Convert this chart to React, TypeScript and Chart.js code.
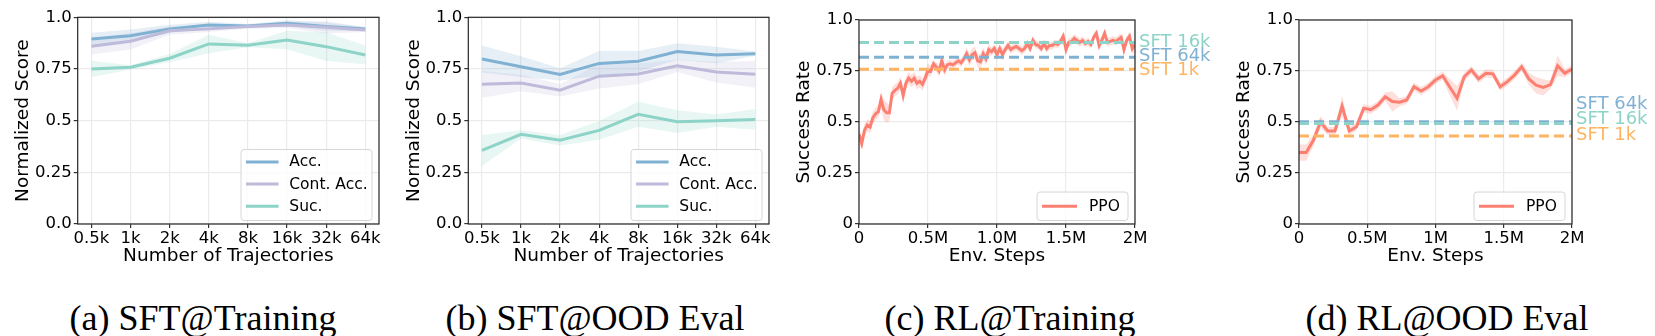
import React, { useEffect, useRef } from 'react';
import { Chart, registerables } from 'chart.js';

Chart.register(...registerables);
Chart.defaults.font.family = '"DejaVu Sans", sans-serif';
Chart.defaults.color = '#000';

// ---------------- data ----------------
const trajTicks = ['0.5k', '1k', '2k', '4k', '8k', '16k', '32k', '64k'];
const trajIndex = [0, 1, 2, 3, 4, 5, 6, 7];
const scoreTickValues = [0, 0.25, 0.5, 0.75, 1.0];
const scoreTickLabels = ['0.0', '0.25', '0.5', '0.75', '1.0'];
const rateTickLabels = ['0', '0.25', '0.5', '0.75', '1.0'];
const stepTickValues = [0, 500000, 1000000, 1500000, 2000000];
const stepTickLabelsTrain = ['0', '0.5M', '1.0M', '1.5M', '2M'];
const stepTickLabelsOod = ['0', '0.5M', '1M', '1.5M', '2M'];

// (a) SFT@Training
const sftTrainAcc = [0.895, 0.911, 0.944, 0.963, 0.958, 0.971, 0.955, 0.944];
const sftTrainAccStd = [0.03, 0.03, 0.02, 0.015, 0.01, 0.015, 0.02, 0.01];
const sftTrainCont = [0.86, 0.884, 0.935, 0.944, 0.955, 0.963, 0.952, 0.939];
const sftTrainContStd = [0.04, 0.04, 0.02, 0.015, 0.01, 0.015, 0.03, 0.01];
const sftTrainSuc = [0.75, 0.758, 0.802, 0.871, 0.865, 0.89, 0.858, 0.818];
const sftTrainSucStd = [0.04, 0.01, 0.02, 0.045, 0.01, 0.045, 0.07, 0.045];

// (b) SFT@OOD Eval
const sftOodAcc = [0.798, 0.761, 0.724, 0.777, 0.787, 0.834, 0.818, 0.824];
const sftOodAccStd = [0.065, 0.05, 0.03, 0.06, 0.05, 0.04, 0.04, 0.01];
const sftOodCont = [0.676, 0.682, 0.647, 0.715, 0.726, 0.765, 0.735, 0.724];
const sftOodContStd = [0.065, 0.04, 0.03, 0.06, 0.05, 0.03, 0.05, 0.065];
const sftOodSuc = [0.356, 0.434, 0.405, 0.453, 0.531, 0.495, 0.5, 0.506];
const sftOodSucStd = [0.075, 0.02, 0.025, 0.045, 0.06, 0.055, 0.03, 0.05];

// (c) RL@Training  (PPO, 101 evaluations over 2M steps)
const ppoTrain = [
  0.44, 0.395, 0.46, 0.485, 0.475, 0.52, 0.54, 0.55, 0.61, 0.56,
  0.545, 0.545, 0.64, 0.655, 0.665, 0.69, 0.63, 0.69, 0.715, 0.7,
  0.715, 0.69, 0.7, 0.685, 0.715, 0.755, 0.75, 0.785, 0.77, 0.75,
  0.8, 0.755, 0.78, 0.785, 0.78, 0.79, 0.8, 0.79, 0.81, 0.835,
  0.805, 0.83, 0.84, 0.8, 0.795, 0.835, 0.81, 0.855, 0.845, 0.86,
  0.83, 0.86, 0.83, 0.855, 0.875, 0.855, 0.865, 0.87, 0.86, 0.85,
  0.86, 0.885, 0.86, 0.9, 0.88, 0.875, 0.86, 0.885, 0.86, 0.875,
  0.875, 0.885, 0.88, 0.895, 0.92, 0.855, 0.89, 0.895, 0.91, 0.9,
  0.89, 0.9, 0.885, 0.895, 0.88, 0.915, 0.935, 0.875, 0.9, 0.935,
  0.89, 0.895, 0.9, 0.895, 0.905, 0.915, 0.855, 0.9, 0.92, 0.86,
  0.88,
];
const ppoTrainStd = [
  0.04, 0.03, 0.03, 0.03, 0.03, 0.03, 0.03, 0.03, 0.04, 0.05,
  0.05, 0.04, 0.03, 0.03, 0.03, 0.03, 0.04, 0.03, 0.03, 0.03,
  0.03, 0.03, 0.03, 0.03, 0.03, 0.03, 0.03, 0.02, 0.02, 0.03,
  0.02, 0.03, 0.02, 0.02, 0.02, 0.02, 0.02, 0.02, 0.02, 0.03,
  0.03, 0.03, 0.03, 0.03, 0.04, 0.03, 0.03, 0.03, 0.02, 0.02,
  0.03, 0.02, 0.03, 0.02, 0.02, 0.02, 0.02, 0.02, 0.02, 0.02,
  0.02, 0.02, 0.02, 0.02, 0.02, 0.02, 0.02, 0.02, 0.02, 0.02,
  0.02, 0.02, 0.02, 0.02, 0.02, 0.03, 0.02, 0.02, 0.02, 0.02,
  0.02, 0.02, 0.02, 0.02, 0.02, 0.02, 0.02, 0.03, 0.02, 0.02,
  0.02, 0.02, 0.02, 0.02, 0.02, 0.02, 0.03, 0.02, 0.02, 0.03,
  0.03,
];
const ppoTrainSteps = ppoTrain.map((_, i) => i * 20000);
const sftTrainRefs = [
  { label: 'SFT 16k', value: 0.89, labelAt: 0.89 },
  { label: 'SFT 64k', value: 0.817, labelAt: 0.82 },
  { label: 'SFT 1k', value: 0.758, labelAt: 0.753 },
];

// (d) RL@OOD Eval (PPO, 39 evaluations over 2M steps)
const ppoOod = [
  0.35, 0.35, 0.41, 0.5, 0.456, 0.456, 0.578, 0.456, 0.477, 0.567,
  0.56, 0.583, 0.624, 0.6, 0.597, 0.608, 0.673, 0.652, 0.673, 0.706,
  0.727, 0.67, 0.616, 0.722, 0.755, 0.711, 0.739, 0.736, 0.673, 0.698,
  0.73, 0.771, 0.711, 0.681, 0.67, 0.683, 0.776, 0.739, 0.76,
];
const ppoOodStd = [
  0.04, 0.04, 0.03, 0.03, 0.02, 0.02, 0.05, 0.02, 0.02, 0.02,
  0.02, 0.02, 0.02, 0.05, 0.02, 0.02, 0.02, 0.02, 0.02, 0.02,
  0.02, 0.04, 0.06, 0.02, 0.02, 0.02, 0.02, 0.02, 0.02, 0.02,
  0.02, 0.02, 0.03, 0.04, 0.04, 0.02, 0.05, 0.02, 0.02,
];
const ppoOodSteps = ppoOod.map((_, i) => (i * 2000000) / (ppoOod.length - 1));
const sftOodRefs = [
  { label: 'SFT 64k', value: 0.501, labelAt: 0.588 },
  { label: 'SFT 16k', value: 0.493, labelAt: 0.515 },
  { label: 'SFT 1k', value: 0.431, labelAt: 0.436 },
];

const captions = ['(a) SFT@Training', '(b) SFT@OOD Eval', '(c) RL@Training', '(d) RL@OOD Eval'];

// ---------------- styling ----------------
const BLUE = '#80b1d3';
const PURPLE = '#bebada';
const TEAL = '#8dd3c7';
const RED = '#fb8072';
const ORANGE = '#fdb462';
const refColors: Record<string, string> = { 'SFT 16k': TEAL, 'SFT 64k': BLUE, 'SFT 1k': ORANGE };

const H = 290;
const TITLE_SIZE = 18.5;
const TICK_SIZE = 16.5;
const TITLE_HALF = TITLE_SIZE * 1.2 / 2;

function rgba(hex: string, a: number) {
  const n = parseInt(hex.slice(1), 16);
  return `rgba(${(n >> 16) & 255},${(n >> 8) & 255},${n & 255},${a})`;
}

function lineDs(xs: number[], ys: number[], color: string, order: number, extra: any = {}) {
  return {
    data: xs.map((x, i) => ({ x, y: ys[i] })),
    borderColor: color,
    borderWidth: 3,
    pointRadius: 0,
    fill: false,
    order,
    ...extra,
  };
}

function bandDs(xs: number[], ys: number[], sd: number[], color: string, order: number, alpha = 0.2) {
  return [
    {
      data: xs.map((x, i) => ({ x, y: ys[i] - sd[i] })),
      borderColor: 'transparent',
      borderWidth: 0,
      pointRadius: 0,
      fill: false,
      order,
    },
    {
      data: xs.map((x, i) => ({ x, y: ys[i] + sd[i] })),
      borderColor: 'transparent',
      borderWidth: 0,
      pointRadius: 0,
      fill: '-1',
      backgroundColor: rgba(color, alpha),
      order,
    },
  ];
}

type Spec = {
  x: number; w: number;
  axisL: number; axisR: number; axisT: number; axisB: number;
  yTitleX: number; xTitleY: number;
  yTitle: string; xTitle: string;
  xMin: number; xMax: number; xTicks: number[]; xLabels: string[];
  yLabels: string[];
  datasets: any[];
  legend: { label: string; color: string }[];
  legendBox: { w: number; h: number; first: number; row: number; l0: number; l1: number; tx: number };
  refs?: { label: string; value: number; labelAt: number }[];
};

function extrasPlugin(spec: Spec) {
  return {
    id: 'extras',
    afterDraw(chart: any) {
      const { ctx, chartArea: a } = chart;
      ctx.save();
      // frame
      ctx.strokeStyle = '#262626';
      ctx.lineWidth = 1.2;
      ctx.strokeRect(a.left, a.top, a.right - a.left, a.bottom - a.top);
      // reference labels
      if (spec.refs) {
        ctx.font = '18px "DejaVu Sans"';
        ctx.textAlign = 'left';
        ctx.textBaseline = 'middle';
        for (const r of spec.refs) {
          ctx.fillStyle = refColors[r.label];
          ctx.fillText(r.label, a.right + 4, chart.scales.y.getPixelForValue(r.labelAt));
        }
      }
      // legend
      const b = spec.legendBox;
      const x0 = a.right - 7 - b.w;
      const y0 = a.bottom - 3.5 - b.h;
      ctx.beginPath();
      ctx.roundRect(x0, y0, b.w, b.h, 3);
      ctx.fillStyle = 'rgba(255,255,255,0.8)';
      ctx.fill();
      ctx.strokeStyle = '#d6d6d6';
      ctx.lineWidth = 1;
      ctx.stroke();
      ctx.font = '15.5px "DejaVu Sans"';
      ctx.textAlign = 'left';
      ctx.textBaseline = 'middle';
      spec.legend.forEach((e, i) => {
        const y = y0 + b.first + i * b.row;
        ctx.strokeStyle = e.color;
        ctx.lineWidth = 3;
        ctx.beginPath();
        ctx.moveTo(x0 + b.l0, y);
        ctx.lineTo(x0 + b.l1, y);
        ctx.stroke();
        ctx.fillStyle = '#000';
        ctx.fillText(e.label, x0 + b.tx, y + 0.5);
      });
      ctx.restore();
    },
  };
}

function buildConfig(spec: Spec): any {
  const padLeft = spec.yTitleX - spec.x - 4 - TITLE_HALF;
  const yW = spec.axisL - spec.x - padLeft;
  const xBottom = spec.xTitleY + TITLE_HALF;
  const xH = xBottom - spec.axisB;
  const grid = { color: '#ebebeb', lineWidth: 1.2, tickLength: 4, tickColor: '#333', tickWidth: 1.2, drawTicks: true };
  return {
    type: 'line',
    data: { datasets: spec.datasets },
    options: {
      responsive: false,
      animation: false,
      devicePixelRatio: 1,
      layout: {
        padding: {
          left: padLeft,
          right: spec.w - (spec.axisR - spec.x),
          top: spec.axisT,
          bottom: H - xBottom,
        },
      },
      elements: { point: { radius: 0 }, line: { tension: 0 } },
      plugins: { legend: { display: false }, tooltip: { enabled: false } },
      scales: {
        x: {
          type: 'linear',
          min: spec.xMin,
          max: spec.xMax,
          afterBuildTicks: (s: any) => { s.ticks = spec.xTicks.map((v) => ({ value: v })); },
          afterFit: (s: any) => { s.height = xH; },
          ticks: {
            autoSkip: false, maxRotation: 0, padding: 0.5,
            font: { size: TICK_SIZE }, color: '#000',
            callback: (_v: any, i: number) => spec.xLabels[i],
          },
          grid,
          border: { display: false },
          title: { display: true, text: spec.xTitle, font: { size: TITLE_SIZE }, color: '#000', padding: { top: 0, bottom: 0 } },
        },
        y: {
          type: 'linear',
          min: 0,
          max: 1,
          afterBuildTicks: (s: any) => { s.ticks = scoreTickValues.map((v) => ({ value: v })); },
          afterFit: (s: any) => { s.width = yW; },
          ticks: {
            autoSkip: false, padding: 2,
            font: { size: TICK_SIZE }, color: '#000',
            callback: (_v: any, i: number) => spec.yLabels[i],
          },
          grid,
          border: { display: false },
          title: { display: true, text: spec.yTitle, font: { size: TITLE_SIZE }, color: '#000', padding: { top: 4, bottom: 4 } },
        },
      },
    },
    plugins: [extrasPlugin(spec)],
  };
}

const legend3 = { w: 131, h: 71, first: 12.4, row: 22.2, l0: 5, l1: 37.6, tx: 48.3 };
const legend1 = { w: 91, h: 28.5, first: 14.2, row: 22, l0: 5, l1: 40, tx: 52 };

function refDatasets(refs: { label: string; value: number }[], orderBase: number) {
  return refs.map((r, i) =>
    lineDs([0, 2000000], [r.value, r.value], refColors[r.label], orderBase - i, { borderDash: [10, 5] })
  );
}

const specs: Spec[] = [
  {
    x: 0, w: 400, axisL: 77.7, axisR: 379, axisT: 17.3, axisB: 224,
    yTitleX: 23.5, xTitleY: 256.5,
    yTitle: 'Normalized Score', xTitle: 'Number of Trajectories',
    xMin: -0.35, xMax: 7.35, xTicks: trajIndex, xLabels: trajTicks, yLabels: scoreTickLabels,
    datasets: [
      lineDs(trajIndex, sftTrainAcc, BLUE, 3),
      lineDs(trajIndex, sftTrainCont, PURPLE, 2),
      lineDs(trajIndex, sftTrainSuc, TEAL, 1),
      ...bandDs(trajIndex, sftTrainAcc, sftTrainAccStd, BLUE, 10),
      ...bandDs(trajIndex, sftTrainCont, sftTrainContStd, PURPLE, 10),
      ...bandDs(trajIndex, sftTrainSuc, sftTrainSucStd, TEAL, 10),
    ],
    legend: [{ label: 'Acc.', color: BLUE }, { label: 'Cont. Acc.', color: PURPLE }, { label: 'Suc.', color: TEAL }],
    legendBox: legend3,
  },
  {
    x: 395, w: 400, axisL: 468.3, axisR: 769, axisT: 17.3, axisB: 224,
    yTitleX: 414, xTitleY: 256.5,
    yTitle: 'Normalized Score', xTitle: 'Number of Trajectories',
    xMin: -0.35, xMax: 7.35, xTicks: trajIndex, xLabels: trajTicks, yLabels: scoreTickLabels,
    datasets: [
      lineDs(trajIndex, sftOodAcc, BLUE, 3),
      lineDs(trajIndex, sftOodCont, PURPLE, 2),
      lineDs(trajIndex, sftOodSuc, TEAL, 1),
      ...bandDs(trajIndex, sftOodAcc, sftOodAccStd, BLUE, 10),
      ...bandDs(trajIndex, sftOodCont, sftOodContStd, PURPLE, 10),
      ...bandDs(trajIndex, sftOodSuc, sftOodSucStd, TEAL, 10),
    ],
    legend: [{ label: 'Acc.', color: BLUE }, { label: 'Cont. Acc.', color: PURPLE }, { label: 'Suc.', color: TEAL }],
    legendBox: legend3,
  },
  {
    x: 785, w: 455, axisL: 859, axisR: 1135, axisT: 20, axisB: 224,
    yTitleX: 804, xTitleY: 256.5,
    yTitle: 'Success Rate', xTitle: 'Env. Steps',
    xMin: 0, xMax: 2000000, xTicks: stepTickValues, xLabels: stepTickLabelsTrain, yLabels: rateTickLabels,
    datasets: [
      ...refDatasets(sftTrainRefs, 3),
      lineDs(ppoTrainSteps, ppoTrain, RED, 5),
      ...bandDs(ppoTrainSteps, ppoTrain, ppoTrainStd, RED, 10, 0.25),
    ],
    legend: [{ label: 'PPO', color: RED }],
    legendBox: legend1,
    refs: sftTrainRefs,
  },
  {
    x: 1228, w: 427, axisL: 1299, axisR: 1572, axisT: 20, axisB: 224,
    yTitleX: 1244, xTitleY: 256.5,
    yTitle: 'Success Rate', xTitle: 'Env. Steps',
    xMin: 0, xMax: 2000000, xTicks: stepTickValues, xLabels: stepTickLabelsOod, yLabels: rateTickLabels,
    datasets: [
      ...refDatasets(sftOodRefs, 3),
      lineDs(ppoOodSteps, ppoOod, RED, 5),
      ...bandDs(ppoOodSteps, ppoOod, ppoOodStd, RED, 10, 0.25),
    ],
    legend: [{ label: 'PPO', color: RED }],
    legendBox: legend1,
    refs: sftOodRefs,
  },
];

const captionCenters = [203, 595, 1010, 1447];

function Panel({ spec }: { spec: Spec }) {
  const ref = useRef<HTMLCanvasElement | null>(null);
  useEffect(() => {
    if (!ref.current) return;
    const chart = new Chart(ref.current, buildConfig(spec));
    return () => chart.destroy();
  }, [spec]);
  return (
    <canvas
      ref={ref}
      width={spec.w}
      height={H}
      style={{ position: 'absolute', left: spec.x, top: 0, width: spec.w, height: H }}
    />
  );
}

export default function App() {
  return (
    <div style={{ position: 'absolute', left: 0, top: 0, width: 1655, height: 336, background: '#fff', overflow: 'hidden' }}>
      {specs.map((s, i) => (
        <Panel key={i} spec={s} />
      ))}
      {captions.map((c, i) => (
        <div
          key={c}
          style={{
            position: 'absolute',
            left: captionCenters[i] - 250,
            width: 500,
            top: 298,
            lineHeight: '40px',
            textAlign: 'center',
            fontFamily: '"Liberation Serif", "Times New Roman", serif',
            fontSize: 36,
            color: '#000',
            whiteSpace: 'nowrap',
          }}
        >
          {c}
        </div>
      ))}
    </div>
  );
}
